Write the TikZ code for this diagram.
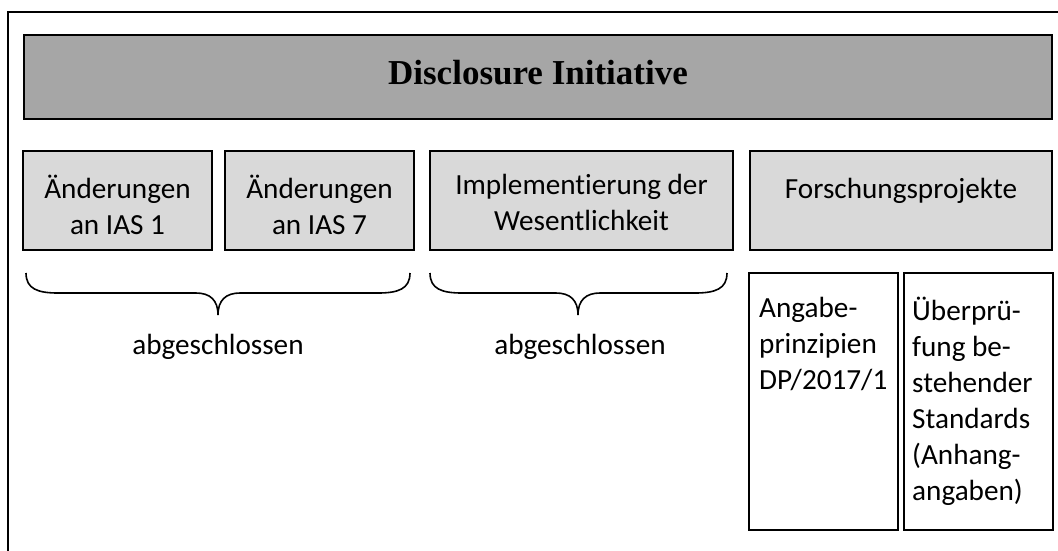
\documentclass[tikz,border=0pt]{standalone}
\usepackage{fontspec}
\setmainfont{Carlito}[Ligatures=NoCommon]
\newfontfamily\titlefont{Liberation Serif}
\definecolor{titlegray}{HTML}{A6A6A6}
\definecolor{boxgray}{HTML}{D9D9D9}
% open brace drawn downward: left end, right end, tip position
\newcommand\curlybrace[3]{%
  \draw[bracestyle] (#1,273) .. controls (#1,289) and (#1+12,293) .. (#1+32,293)
    -- (#3-22,293) .. controls (#3-8,293) and (#3,300) .. (#3,315)
    .. controls (#3,300) and (#3+8,293) .. (#3+22,293)
    -- (#2-32,293) .. controls (#2-12,293) and (#2,289) .. (#2,273);}
\begin{document}
\begin{tikzpicture}[x=1pt,y=-1pt,
  bodytext/.style={font=\fontsize{29.2}{36}\selectfont, inner sep=0pt,
    execute at begin node={\rule{0pt}{25pt}}},
  titlebox/.style={draw, line width=2pt, fill=titlegray, inner sep=0pt,
    minimum width=1028pt, minimum height=84pt},
  graybox/.style={draw, line width=2pt, fill=boxgray, inner sep=0pt,
    minimum height=99pt},
  whitebox/.style={draw, line width=2pt, fill=white, inner sep=0pt,
    minimum width=149pt, minimum height=257pt},
  bracestyle/.style={line width=1.6pt},
  frame/.style={line width=2.6pt}
]
\useasboundingbox (0,0) rectangle (1058,550);

% outer frame (open to the right and bottom)
\draw[frame] (1062,12) -- (8,12) -- (8,554);

% heading
\node[titlebox] (title) at (538,77) {};
\node[font=\titlefont\fontsize{35}{42}\selectfont\bfseries, inner sep=0pt, anchor=base]
  (titletext) at (538,84) {Disclosure Initiative};

% second row of boxes
\node[graybox, minimum width=189pt] (b1) at (117.5,200.5) {};
\node[graybox, minimum width=189pt] (b2) at (319.5,200.5) {};
\node[graybox, minimum width=303pt] (b3) at (581.5,200.5) {};
\node[graybox, minimum width=302pt] (b4) at (901,200.5) {};

\node[bodytext, anchor=north, align=center] (t1) at ([yshift=-25pt]b1.north) {Änderungen\\an IAS 1};
\node[bodytext, anchor=north, align=center] (t2) at ([yshift=-25pt]b2.north) {Änderungen\\an IAS 7};
\node[bodytext, anchor=north, align=center] (t3) at ([yshift=-24pt]b3.north) {Implementierung der\\Wesentlichkeit};
\node[bodytext, anchor=north, align=center] (t4) at ([yshift=-23pt]b4.north) {Forschungsprojekte};

% braces and status
\curlybrace{26}{410}{218}
\curlybrace{430}{727}{578}
\node[bodytext, anchor=base, execute at begin node={}] (s1) at (218,354) {abgeschlossen};
\node[bodytext, anchor=base, execute at begin node={}] (s2) at (580,354) {abgeschlossen};

% research projects
\node[whitebox] (pA) at (823.5,401.5) {};
\node[whitebox] (pB) at (978.5,401.5) {};
\node[bodytext, anchor=north west, align=left] (tA) at ([xshift=11pt,yshift=-25pt]pA.north west)
  {Angabe-\\prinzipien\\DP/2017/1};
\node[bodytext, anchor=north west, align=left] (tB) at ([xshift=9pt,yshift=-25pt]pB.north west)
  {Überprü-\\fung be-\\stehender\\Standards\\(Anhang-\\angaben)};
\end{tikzpicture}
\end{document}
